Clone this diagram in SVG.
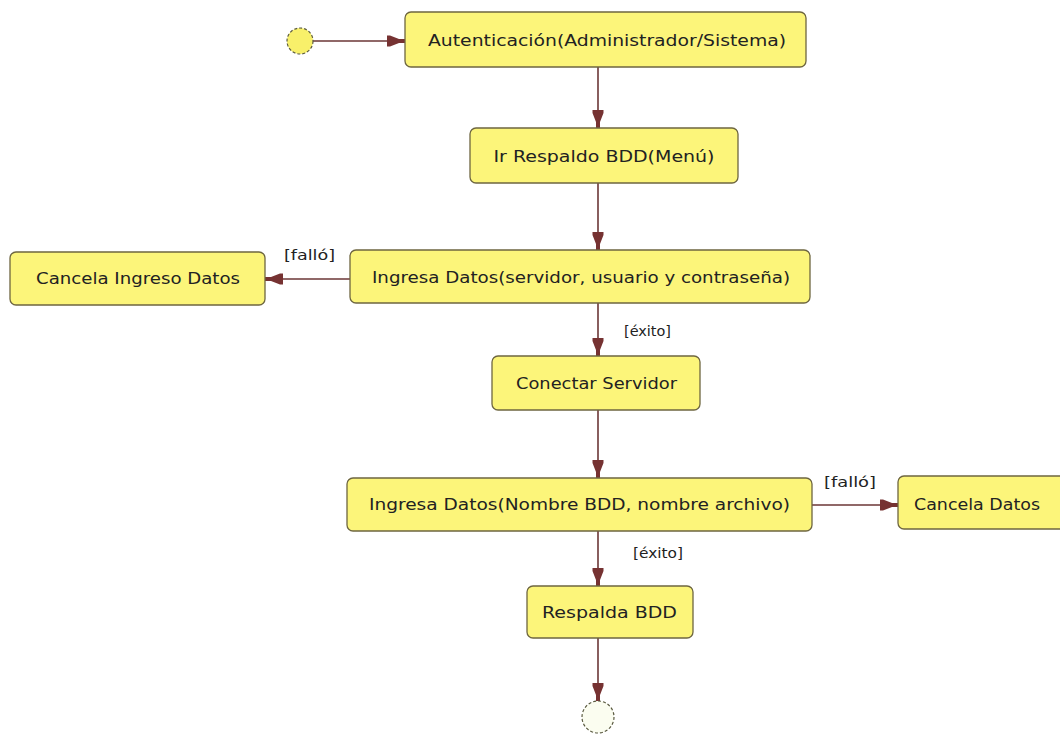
<svg xmlns="http://www.w3.org/2000/svg" width="1060" height="736" viewBox="0 0 1060 736">
  <style>
    .act { fill: #fcf57a; stroke: #6e6640; stroke-width: 1.3; }
    .lbl { font-family: "DejaVu Sans", "Liberation Sans", sans-serif; font-size: 16px; fill: #222; }
    .guard { font-family: "DejaVu Sans", "Liberation Sans", sans-serif; font-size: 14.5px; fill: #222; }
    .flow { stroke: #6b3636; stroke-width: 1.6; fill: none; }
    .state { stroke: #5a5a40; stroke-width: 1.2; stroke-dasharray: 3 2; }
  </style>
  <defs>
    <!-- chunky filled arrowhead with a short stub at the tip -->
    <marker id="head" viewBox="0 0 20 12" refX="20" refY="6" markerWidth="20" markerHeight="12" markerUnits="userSpaceOnUse" orient="auto">
      <path d="M2,0.5 L5,0.5 L14,4 L20,4 L20,8 L14,8 L5,11.5 L2,11.5 Z" fill="#763232"/>
    </marker>
  </defs>
  <rect width="1060" height="736" fill="#ffffff"/>

  <g id="connectors">
    <line class="flow" x1="313" y1="41" x2="405" y2="41" marker-end="url(#head)"/>
    <line class="flow" x1="598" y1="67" x2="598" y2="128" marker-end="url(#head)"/>
    <line class="flow" x1="598" y1="183" x2="598" y2="250" marker-end="url(#head)"/>
    <line class="flow" x1="350" y1="279" x2="265" y2="279" marker-end="url(#head)"/>
    <line class="flow" x1="598" y1="303" x2="598" y2="356" marker-end="url(#head)"/>
    <line class="flow" x1="598" y1="410" x2="598" y2="478" marker-end="url(#head)"/>
    <line class="flow" x1="812" y1="505" x2="898" y2="505" marker-end="url(#head)"/>
    <line class="flow" x1="598" y1="531" x2="598" y2="586" marker-end="url(#head)"/>
    <line class="flow" x1="598" y1="638" x2="598" y2="701" marker-end="url(#head)"/>
    <text class="guard" x="284" y="260" textLength="51" lengthAdjust="spacingAndGlyphs">[falló]</text>
    <text class="guard" x="624" y="336" textLength="47" lengthAdjust="spacingAndGlyphs">[éxito]</text>
    <text class="guard" x="824" y="487" textLength="52" lengthAdjust="spacingAndGlyphs">[falló]</text>
    <text class="guard" x="633" y="558" textLength="50" lengthAdjust="spacingAndGlyphs">[éxito]</text>
  </g>

  <g id="start">
    <circle class="state" cx="300" cy="41" r="13" fill="#f8f06a"/>
  </g>

  <g id="autenticacion">
    <rect class="act" x="405" y="12" width="401" height="55" rx="6"/>
    <text class="lbl" x="607" y="46" text-anchor="middle" textLength="358" lengthAdjust="spacingAndGlyphs">Autenticación(Administrador/Sistema)</text>
  </g>

  <g id="ir-respaldo">
    <rect class="act" x="470" y="128" width="268" height="55" rx="6"/>
    <text class="lbl" x="604" y="162" text-anchor="middle" textLength="221" lengthAdjust="spacingAndGlyphs">Ir Respaldo BDD(Menú)</text>
  </g>

  <g id="ingresa-servidor">
    <rect class="act" x="350" y="250" width="460" height="53" rx="6"/>
    <text class="lbl" x="581" y="283" text-anchor="middle" textLength="418" lengthAdjust="spacingAndGlyphs">Ingresa Datos(servidor, usuario y contraseña)</text>
  </g>

  <g id="cancela-ingreso">
    <rect class="act" x="10" y="252" width="255" height="53" rx="6"/>
    <text class="lbl" x="138" y="284" text-anchor="middle" textLength="204" lengthAdjust="spacingAndGlyphs">Cancela Ingreso Datos</text>
  </g>

  <g id="conectar">
    <rect class="act" x="492" y="356" width="208" height="54" rx="6"/>
    <text class="lbl" x="596.5" y="389" text-anchor="middle" textLength="161" lengthAdjust="spacingAndGlyphs">Conectar Servidor</text>
  </g>

  <g id="ingresa-bdd">
    <rect class="act" x="347" y="478" width="465" height="53" rx="6"/>
    <text class="lbl" x="579.5" y="510" text-anchor="middle" textLength="421" lengthAdjust="spacingAndGlyphs">Ingresa Datos(Nombre BDD, nombre archivo)</text>
  </g>

  <g id="cancela-datos">
    <rect class="act" x="898" y="476" width="170" height="53" rx="6"/>
    <text class="lbl" x="914" y="510" textLength="126" lengthAdjust="spacingAndGlyphs">Cancela Datos</text>
  </g>

  <g id="respalda">
    <rect class="act" x="527" y="586" width="166" height="52" rx="6"/>
    <text class="lbl" x="609.5" y="618" text-anchor="middle" textLength="135" lengthAdjust="spacingAndGlyphs">Respalda BDD</text>
  </g>

  <g id="end">
    <circle class="state" cx="598" cy="717" r="16" fill="#fbfdf0"/>
  </g>
</svg>
